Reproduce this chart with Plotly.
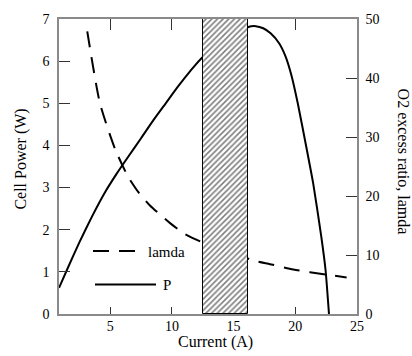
import plotly.graph_objects as go

# Cell power (left axis) versus current
current_p = [0.85, 1.5, 2.5, 3.5, 4.5, 5.5, 6.5, 7.5, 8.5, 9.5, 10.5, 11.5, 12.5,
             16.2, 16.8, 17.4, 18.0, 18.7, 19.2, 19.7, 20.2, 20.9, 21.45, 22.1, 22.45, 22.73]
power_w = [0.62, 1.05, 1.7, 2.3, 2.85, 3.32, 3.75, 4.17, 4.6, 5.0, 5.4, 5.77, 6.1,
           6.81, 6.83, 6.78, 6.66, 6.42, 6.12, 5.65, 5.0, 3.95, 3.1, 1.85, 1.05, 0.0]

# O2 excess ratio (right axis) versus current
current_lamda = [3.14, 4.17, 5.39, 6.44, 7.3, 8.22, 9.85, 11.06, 12.41,
                 16.73, 17.95, 19.84, 22.54, 24.16]
lamda = [47.9, 35.7, 28.0, 23.3, 20.6, 18.4, 15.4, 13.55, 12.2,
         9.0, 8.45, 7.55, 6.67, 6.2]

# Shaded current band
band = [12.5, 16.2]

x_ticks = [5, 10, 15, 20, 25]
y_ticks = [0, 1, 2, 3, 4, 5, 6, 7]
y2_ticks = [0, 10, 20, 30, 40, 50]

FONT = "Liberation Serif, Times New Roman, Times, serif"
AXIS_GREY = "#8a8a8a"
TICK_COL = "#333333"

fig = go.Figure()

fig.add_trace(go.Scatter(
    x=current_p, y=power_w, mode="lines", name="P",
    line=dict(color="black", width=2, shape="spline", smoothing=0.5),
    xaxis="x", yaxis="y", showlegend=False,
))

fig.add_trace(go.Scatter(
    x=current_lamda, y=lamda, mode="lines", name="lamda",
    line=dict(color="black", width=2, dash="16px,10px", shape="spline", smoothing=0.6),
    xaxis="x", yaxis="y2", showlegend=False,
))

fig.add_trace(go.Bar(
    x=[(band[0] + band[1]) / 2], y=[1], base=[0], width=[band[1] - band[0]],
    marker=dict(
        color="white",
        line=dict(color="black", width=1),
        pattern=dict(shape="/", fgcolor="black", bgcolor="white", size=4, solidity=0.4),
    ),
    xaxis="x2", yaxis="y3", showlegend=False, hoverinfo="skip",
))

tick_font = dict(family=FONT, size=14, color="black")

fig.update_layout(
    width=412, height=356,
    margin=dict(l=59, r=55, t=14, b=42),
    paper_bgcolor="white", plot_bgcolor="white",
    font=dict(family=FONT, color="black"),
    bargap=0,
    xaxis=dict(
        range=[0.85, 25], tickvals=x_ticks, ticks="inside", ticklen=7, tickwidth=1,
        tickcolor=TICK_COL, showline=True, linecolor=AXIS_GREY, linewidth=1.5,
        mirror=True, showgrid=False, zeroline=False, tickfont=tick_font,
        layer="below traces", ticklabelstandoff=-2,
    ),
    xaxis2=dict(
        range=[0.85, 25], overlaying="x", side="top", tickvals=x_ticks,
        ticks="inside", ticklen=11, tickwidth=1, tickcolor=TICK_COL,
        showticklabels=False, showline=False, showgrid=False, zeroline=False,
        layer="below traces",
    ),
    yaxis=dict(
        range=[0, 7], tickvals=y_ticks, ticks="inside", ticklen=11, tickwidth=1,
        tickcolor=TICK_COL, showline=True, linecolor=AXIS_GREY, linewidth=1.5,
        showgrid=False, zeroline=False, tickfont=tick_font, ticklabelstandoff=5,
    ),
    yaxis2=dict(
        range=[0, 50], tickvals=y2_ticks, overlaying="y", side="right", anchor="x",
        ticks="inside", ticklen=11, tickwidth=1, tickcolor=TICK_COL,
        showline=True, linecolor=AXIS_GREY, linewidth=1.5,
        showgrid=False, zeroline=False, tickfont=tick_font, ticklabelstandoff=4,
    ),
    yaxis3=dict(
        range=[0, 1], overlaying="y", anchor="x2", visible=False,
    ),
)

title_font = dict(family=FONT, size=16, color="black")

# Axis titles
fig.add_annotation(text="Current (A)", xref="paper", yref="paper",
                   x=(215 - 59) / 298, y=(314 - 342) / 300,
                   xanchor="center", yanchor="middle", showarrow=False, font=title_font)
fig.add_annotation(text="Cell Power (W)", xref="paper", yref="paper",
                   x=(21 - 59) / 298, y=(314 - 157) / 300, textangle=-90,
                   xanchor="center", yanchor="middle", showarrow=False, font=title_font)
fig.add_annotation(text="O2 excess ratio, lamda", xref="paper", yref="paper",
                   x=(403 - 59) / 298, y=(314 - 159) / 300, textangle=90,
                   xanchor="center", yanchor="middle", showarrow=False, font=title_font)

# Hand-placed key
fig.add_shape(type="line", xref="paper", yref="paper",
              x0=(93 - 59) / 298, x1=(137 - 59) / 298,
              y0=(314 - 250) / 300, y1=(314 - 250) / 300,
              line=dict(color="black", width=2, dash="16px,10px"))
fig.add_shape(type="line", xref="paper", yref="paper",
              x0=(95 - 59) / 298, x1=(156 - 59) / 298,
              y0=(314 - 284) / 300, y1=(314 - 284) / 300,
              line=dict(color="black", width=2))
legend_font = dict(family=FONT, size=15, color="black")
fig.add_annotation(text="lamda", xref="paper", yref="paper",
                   x=(146 - 59) / 298, y=(314 - 251) / 300,
                   xanchor="left", yanchor="middle", showarrow=False, font=legend_font)
fig.add_annotation(text="P", xref="paper", yref="paper",
                   x=(161 - 59) / 298, y=(314 - 284) / 300,
                   xanchor="left", yanchor="middle", showarrow=False, font=legend_font)

fig.write_html("out.html")
